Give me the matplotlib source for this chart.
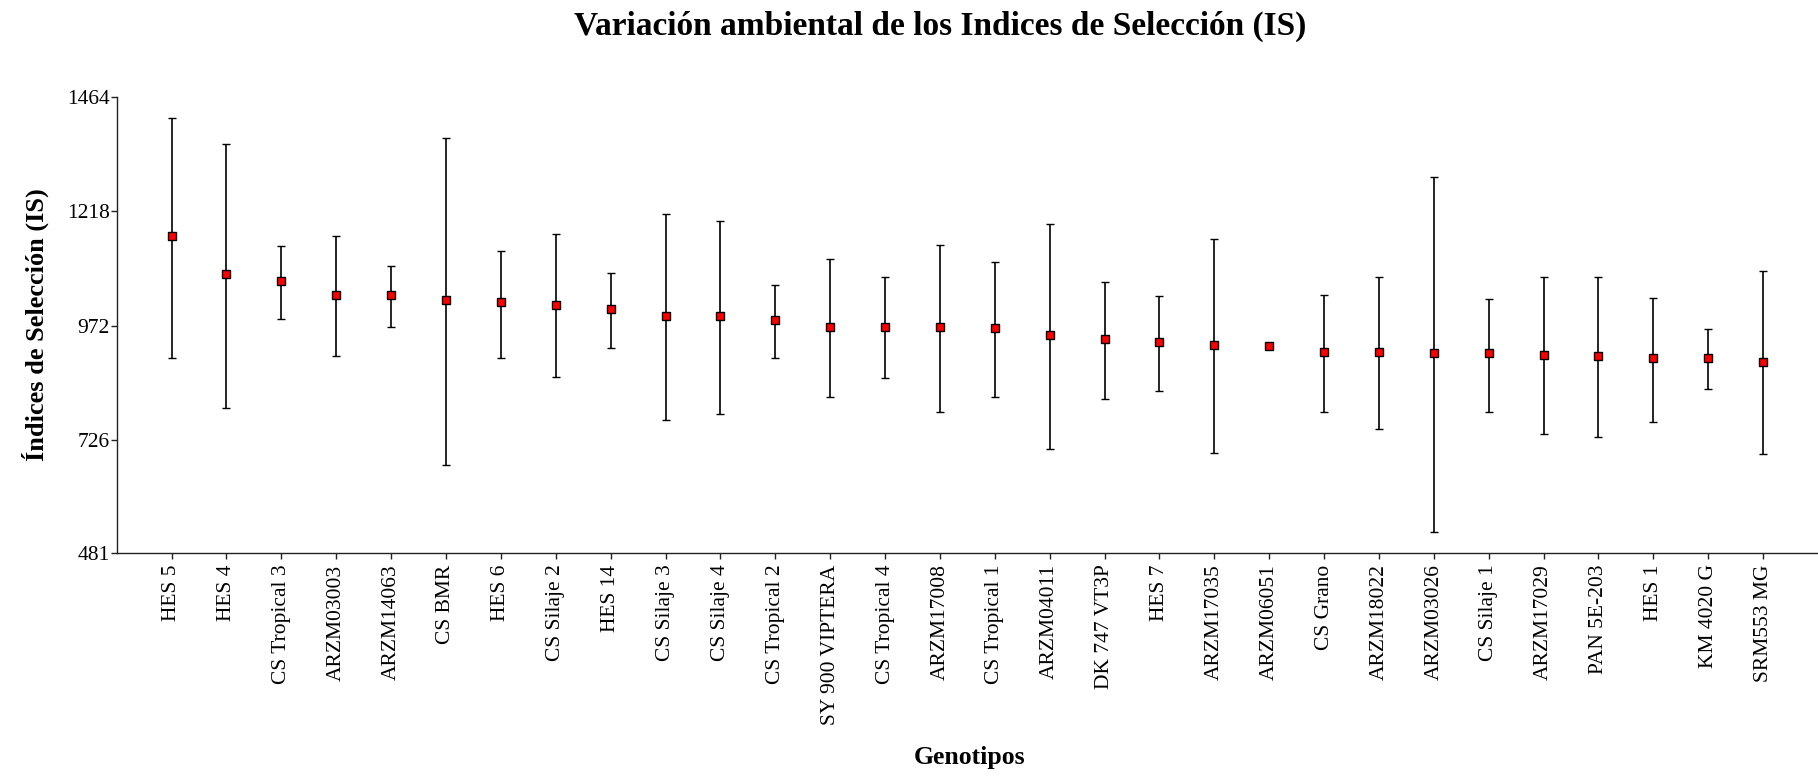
import matplotlib
matplotlib.use("Agg")
import matplotlib.pyplot as plt
import numpy as np

genotipos = ["HES 5", "HES 4", "CS Tropical 3", "ARZM03003", "ARZM14063", "CS BMR",
             "HES 6", "CS Silaje 2", "HES 14", "CS Silaje 3", "CS Silaje 4",
             "CS Tropical 2", "SY 900 VIPTERA", "CS Tropical 4", "ARZM17008",
             "CS Tropical 1", "ARZM04011", "DK 747 VT3P", "HES 7", "ARZM17035",
             "ARZM06051", "CS Grano", "ARZM18022", "ARZM03026", "CS Silaje 1",
             "ARZM17029", "PAN 5E-203", "HES 1", "KM 4020 G", "SRM553 MG"]

media = [1164, 1083, 1068, 1038, 1038, 1026, 1023, 1017, 1008, 993, 993, 984,
         969, 969, 969, 966, 951, 942, 936, 930, 927, 915, 915, 912, 912, 909,
         906, 901, 901, 894]
maximo = [1419, 1363, 1143, 1164, 1101, 1377, 1133, 1169, 1086, 1212, 1197, 1059,
          1115, 1077, 1146, 1110, 1191, 1065, 1035, 1158, 933, 1038, 1077, 1293,
          1029, 1077, 1077, 1032, 964, 1089]
minimo = [903, 795, 987, 906, 969, 672, 903, 862, 924, 768, 781, 903,
          819, 858, 786, 817, 706, 814, 831, 697, 921, 786, 748, 526,
          786, 738, 732, 763, 835, 694]

y_ticks = [481, 726, 972, 1218, 1464]

plt.rcParams["font.family"] = ["Liberation Serif", "DejaVu Serif"]

fig = plt.figure(figsize=(18.18, 7.77), dpi=100)
ax = fig.add_axes([0.0642, 0.2879, 0.9358, 0.5869])

x = np.arange(len(genotipos))
media = np.array(media)
err = [media - np.array(minimo), np.array(maximo) - media]
ax.errorbar(x, media, yerr=err, fmt="s", color="black", ecolor="black",
            elinewidth=1.2, capsize=3, capthick=1.2,
            markerfacecolor="red", markeredgecolor="black",
            markersize=5.5, markeredgewidth=1)

ax.set_xlim(-1, len(genotipos))
ax.set_ylim(481, 1464)
ax.set_yticks(y_ticks)
ax.set_xticks(x)
ax.set_xticklabels(genotipos, rotation=90)
ax.tick_params(axis="both", labelsize=15.5, length=4, width=1, colors="#222222",
               labelcolor="black")
ax.tick_params(axis="x", pad=4)
ax.tick_params(axis="y", pad=1)

ax.spines["top"].set_visible(False)
ax.spines["right"].set_visible(False)
for s in ["left", "bottom"]:
    ax.spines[s].set_color("#222222")
    ax.spines[s].set_linewidth(1)

fig.text(0.517, 0.966, "Variación ambiental de los Indices de Selección (IS)",
         ha="center", va="center", fontsize=24, fontweight="bold")
fig.text(0.5335, 0.025, "Genotipos", ha="center", va="center",
         fontsize=18.5, fontweight="bold")
fig.text(0.0193, 0.582, "Índices de Selección (IS)", ha="center", va="center",
         rotation=90, fontsize=19, fontweight="bold")

plt.savefig("out.png", dpi=100)
